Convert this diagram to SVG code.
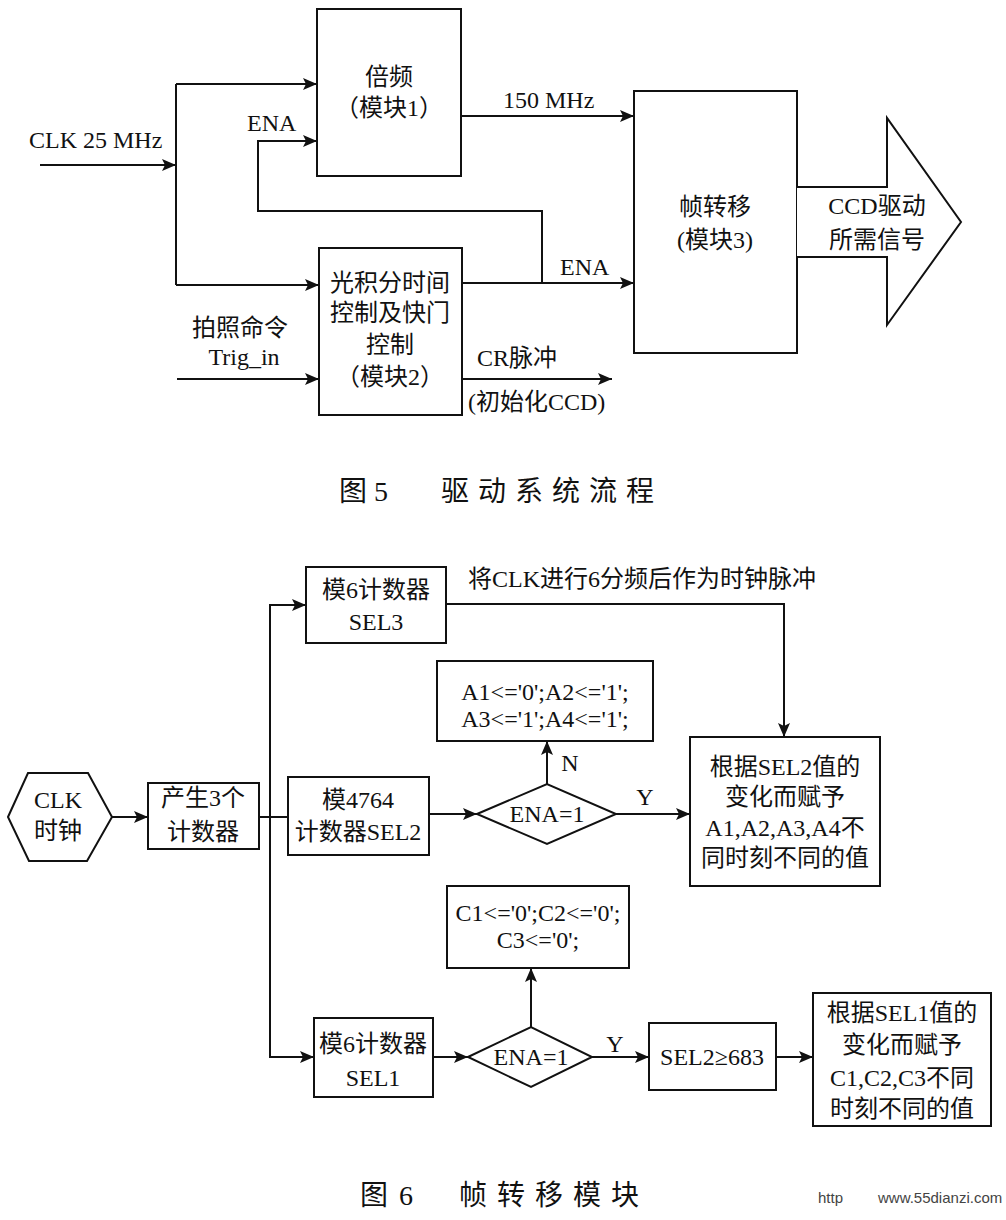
<svg xmlns="http://www.w3.org/2000/svg" width="1006" height="1220" viewBox="0 0 1006 1220">
<defs>
<marker id="ah" markerUnits="userSpaceOnUse" markerWidth="16" markerHeight="12" refX="14" refY="6" orient="auto">
<path d="M0,0 L14,6 L0,12 L3,6 z" fill="#111"/>
</marker>
<style>
.bx{fill:#fff;stroke:#111;stroke-width:2}
.ln{fill:none;stroke:#111;stroke-width:2}
.ar{fill:none;stroke:#111;stroke-width:2;marker-end:url(#ah)}
text{font-family:"Liberation Serif","Noto Sans CJK SC",serif;font-size:24px;fill:#111}
.c{text-anchor:middle}
.cap{font-size:28px}
.wm{font-family:"Liberation Sans",sans-serif;font-size:15px;fill:#444}
</style>
</defs>
<rect width="1006" height="1220" fill="#fff"/>

<!-- ===== Figure 5 ===== -->
<g id="connectors5">
<path class="ar" d="M40,165 H176"/>
<path class="ln" d="M176,84 V285"/>
<path class="ar" d="M176,84 H317"/>
<path class="ar" d="M176,285 H319"/>
<path class="ar" d="M542,283 V211 H258 V141 H317"/>
<path class="ar" d="M461,116 H634"/>
<path class="ar" d="M462,283 H634"/>
<path class="ar" d="M177,379 H319"/>
<path class="ar" d="M462,379 H612"/>
</g>
<g id="labels5">
<text x="29" y="148">CLK 25 MHz</text>
<text x="247" y="131">ENA</text>
<text x="503" y="108">150 MHz</text>
<text x="560" y="275">ENA</text>
<text x="477" y="366">CR脉冲</text>
<text x="468" y="410">(初始化CCD)</text>
<text class="c" x="240" y="336">拍照命令</text>
<text class="c" x="244" y="365">Trig_in</text>
</g>
<g id="mod1">
<rect class="bx" x="317" y="9" width="144" height="167"/>
<text class="c" x="389" y="85">倍频</text>
<text class="c" x="389" y="116">（模块1）</text>
</g>
<g id="mod2">
<rect class="bx" x="319" y="248" width="143" height="167"/>
<text class="c" x="390" y="291">光积分时间</text>
<text class="c" x="390" y="321">控制及快门</text>
<text class="c" x="390" y="353">控制</text>
<text class="c" x="390" y="385">（模块2）</text>
</g>
<g id="mod3">
<rect class="bx" x="634" y="91" width="163" height="262"/>
<text class="c" x="715" y="215">帧转移</text>
<text class="c" x="715" y="248">(模块3)</text>
</g>
<g id="out5">
<path d="M797,187 H887 V118 L961,222 L887,325 V257 H797" fill="#fff" stroke="#111" stroke-width="2"/>
<text class="c" x="877" y="214">CCD驱动</text>
<text class="c" x="877" y="248">所需信号</text>
</g>
<g id="caption5">
<text class="cap" x="339" y="501">图</text>
<text class="cap" x="374" y="501">5</text>
<text class="cap" x="441" y="501" letter-spacing="9">驱动系统流程</text>
</g>

<!-- ===== Figure 6 ===== -->
<g id="connectors6">
<path class="ar" d="M112,817 H148"/>
<path class="ln" d="M259,817 H288"/>
<path class="ar" d="M270,817 V605 H306"/>
<path class="ar" d="M270,817 V1057 H314"/>
<path class="ar" d="M429,814 H477"/>
<path class="ar" d="M547,784 V741"/>
<path class="ar" d="M616,814 H690"/>
<path class="ar" d="M446,604 H784 V737"/>
<path class="ar" d="M433,1057 H468"/>
<path class="ar" d="M531,1027 V968"/>
<path class="ar" d="M592,1057 H649"/>
<path class="ar" d="M776,1057 H813"/>
</g>
<g id="labels6">
<text x="468" y="587">将CLK进行6分频后作为时钟脉冲</text>
<text class="c" x="570" y="771">N</text>
<text class="c" x="645" y="805">Y</text>
<text class="c" x="615" y="1052">Y</text>
</g>
<g id="clk">
<polygon class="bx" points="8,817 28,773 88,773 112,817 87,861 29,861"/>
<text class="c" x="58" y="808">CLK</text>
<text class="c" x="58" y="839">时钟</text>
</g>
<g id="gen3">
<rect class="bx" x="148" y="783" width="111" height="66"/>
<text class="c" x="203" y="806">产生3个</text>
<text class="c" x="203" y="840">计数器</text>
</g>
<g id="sel3">
<rect class="bx" x="306" y="567" width="140" height="76"/>
<text class="c" x="376" y="598">模6计数器</text>
<text class="c" x="376" y="630">SEL3</text>
</g>
<g id="sel2">
<rect class="bx" x="288" y="777" width="141" height="78"/>
<text class="c" x="358" y="808">模4764</text>
<text class="c" x="358" y="840">计数器SEL2</text>
</g>
<g id="dec1">
<polygon class="bx" points="477,814 547,784 616,814 547,844"/>
<text class="c" x="547" y="822">ENA=1</text>
</g>
<g id="boxA">
<rect class="bx" x="437" y="661" width="216" height="80"/>
<text class="c" x="545" y="700">A1&lt;='0';A2&lt;='1';</text>
<text class="c" x="545" y="727">A3&lt;='1';A4&lt;='1';</text>
</g>
<g id="assignA">
<rect class="bx" x="690" y="737" width="190" height="149"/>
<text class="c" x="785" y="775">根据SEL2值的</text>
<text class="c" x="785" y="805">变化而赋予</text>
<text class="c" x="785" y="836">A1,A2,A3,A4不</text>
<text class="c" x="785" y="866">同时刻不同的值</text>
</g>
<g id="sel1">
<rect class="bx" x="314" y="1018" width="119" height="79"/>
<text class="c" x="373" y="1052">模6计数器</text>
<text class="c" x="373" y="1086">SEL1</text>
</g>
<g id="dec2">
<polygon class="bx" points="468,1057 531,1027 592,1057 531,1087"/>
<text class="c" x="531" y="1065">ENA=1</text>
</g>
<g id="boxC">
<rect class="bx" x="447" y="886" width="182" height="82"/>
<text class="c" x="538" y="921">C1&lt;='0';C2&lt;='0';</text>
<text class="c" x="538" y="948">C3&lt;='0';</text>
</g>
<g id="cmp">
<rect class="bx" x="649" y="1023" width="127" height="67"/>
<text class="c" x="712" y="1065">SEL2≥683</text>
</g>
<g id="assignC">
<rect class="bx" x="813" y="993" width="178" height="133"/>
<text class="c" x="902" y="1021">根据SEL1值的</text>
<text class="c" x="902" y="1053">变化而赋予</text>
<text class="c" x="902" y="1086">C1,C2,C3不同</text>
<text class="c" x="902" y="1117">时刻不同的值</text>
</g>
<g id="caption6">
<text class="cap" x="360" y="1205">图</text>
<text class="cap" x="399" y="1205">6</text>
<text class="cap" x="459" y="1205" letter-spacing="10">帧转移模块</text>
<text class="wm" x="818" y="1203">http</text>
<text class="wm" x="878" y="1203">www.55dianzi.com</text>
</g>
</svg>
